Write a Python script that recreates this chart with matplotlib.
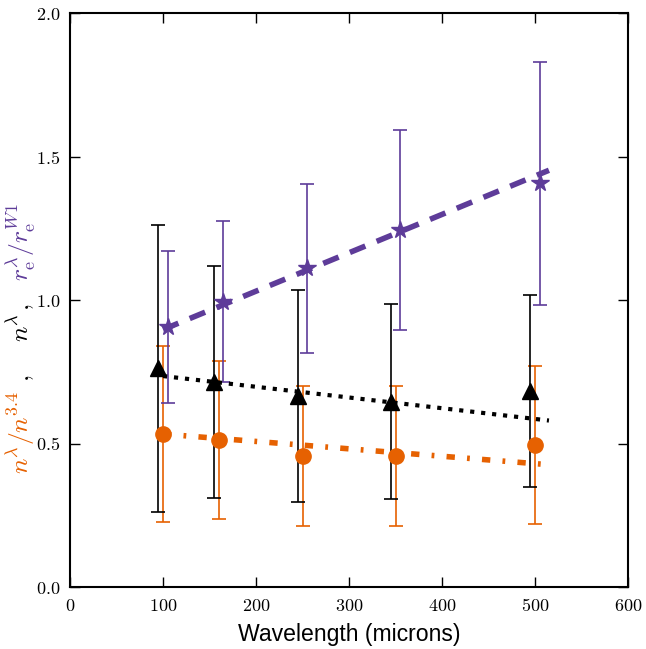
import matplotlib
matplotlib.use("Agg")
import matplotlib.pyplot as plt
import numpy as np
from matplotlib.ticker import FuncFormatter

plt.rcParams['mathtext.fontset'] = 'cm'

wavelength = np.array([100, 160, 250, 350, 500])

n_ratio = [0.533, 0.512, 0.456, 0.456, 0.495]
n_ratio_err = [0.305, 0.275, 0.243, 0.243, 0.274]

n_val = [0.763, 0.714, 0.665, 0.646, 0.684]
n_val_err = [0.50, 0.405, 0.37, 0.34, 0.335]

re_ratio = [0.905, 0.994, 1.110, 1.244, 1.407]
re_ratio_err = [0.265, 0.28, 0.295, 0.35, 0.424]

fit_x = [100, 515]
fit_re = [0.897, 1.452]
fit_n = [0.735, 0.580]
fit_nr = [0.533, 0.426]

orange = '#e66101'
purple = '#5e3c99'

fig = plt.figure(figsize=(6.46, 6.49), dpi=100)
ax = fig.add_axes([70/646, 1-587/649, 558/646, 574/649])

ax.errorbar(wavelength, n_ratio, yerr=n_ratio_err, fmt='o', color=orange, ms=11,
            elinewidth=1.2, capsize=5, capthick=1.2, zorder=3)
ax.errorbar(wavelength - 5, n_val, yerr=n_val_err, fmt='^', color='black', ms=11,
            elinewidth=1.2, capsize=5, capthick=1.2, zorder=3)
ax.errorbar(wavelength + 5, re_ratio, yerr=re_ratio_err, fmt='*', color=purple, ms=13,
            elinewidth=1.2, capsize=5, capthick=1.2, zorder=3)

ax.plot(fit_x, fit_re, '--', color=purple, lw=4, dashes=(3, 2.2), zorder=4)
ax.plot(fit_x, fit_n, ':', color='black', lw=3, zorder=4)
ax.plot(fit_x, fit_nr, '-.', color=orange, lw=4, dashes=(1.5, 2.2, 0.5, 2.2), zorder=4)

ax.set_xlim(0, 600)
ax.set_ylim(0, 2.0)
ax.set_xticks([0, 100, 200, 300, 400, 500, 600])
ax.set_yticks([0.0, 0.5, 1.0, 1.5, 2.0])
ax.xaxis.set_major_formatter(FuncFormatter(lambda v, p: r'$%d$' % v))
ax.yaxis.set_major_formatter(FuncFormatter(lambda v, p: r'$%.1f$' % v))
ax.tick_params(direction='in', length=7, width=1, top=True, right=True, labelsize=13, pad=7)
for s in ax.spines.values():
    s.set_linewidth(1.5)

ax.set_xlabel('Wavelength (microns)', fontsize=16.6, family='Liberation Sans', labelpad=6)

bx = 29/646
kw = dict(rotation=90, rotation_mode='anchor', ha='center', va='baseline', fontsize=18.5)
fig.text(bx, 1-432/649, r'$n^\lambda/n^{3.4}$', color=orange, **kw)
fig.text(bx, 1-378/649, r'$,$', color='black', **kw)
fig.text(bx, 1-328/649, r'$n^\lambda$', color='black', **kw)
fig.text(bx, 1-307/649, r'$,$', color='black', **kw)
fig.text(bx, 1-242/649, r'$r_{\rm e}^\lambda/r_{\rm e}^{W1}$', color=purple, **kw)

fig.savefig('out.png', dpi=100)
